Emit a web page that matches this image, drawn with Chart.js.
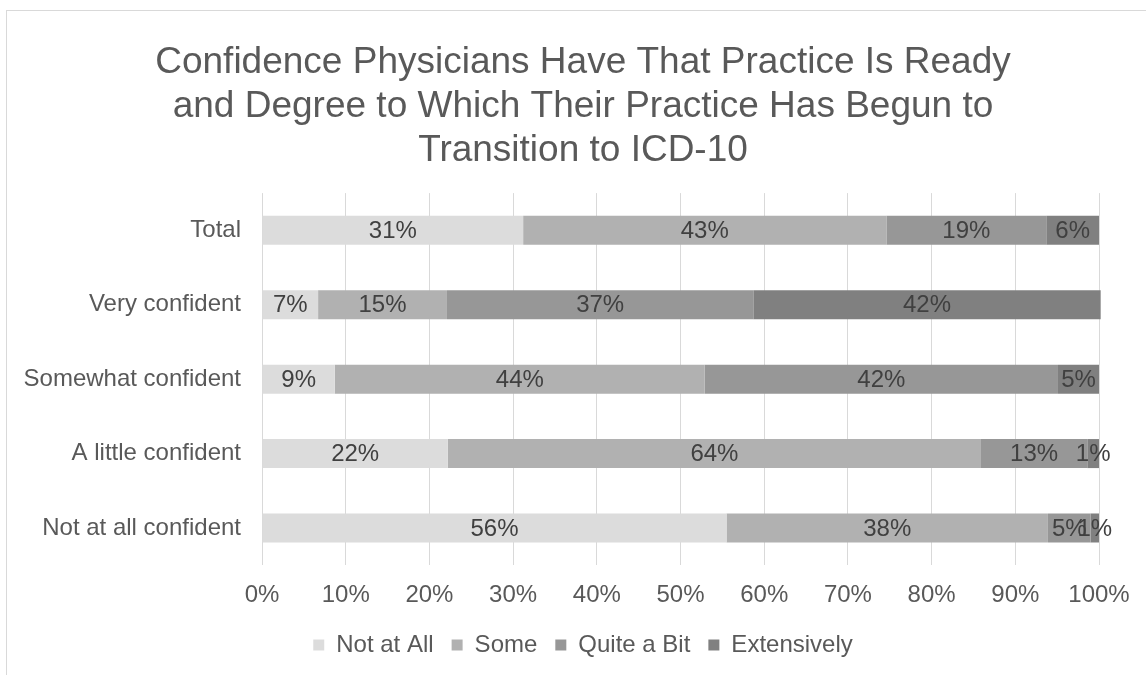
<!DOCTYPE html>
<html>
<head>
<meta charset="utf-8">
<script src="https://cdn.jsdelivr.net/npm/chart.js@4"></script>
<style>
    body {
        margin: 0;
        background: #ffffff;
        overflow: hidden;
        width: 1146px;
        height: 675px;
        position: relative;
    }
    .frame {
        position: absolute;
        left: 6px;
        top: 10px;
        width: 1160px;
        height: 700px;
        border: 1px solid #d9d9d9;
    }
    .chart-box {
        position: absolute;
        left: 7px;
        top: 11px;
        width: 1152px;
        height: 664px;
    }
</style>
</head>
<body>
<div class="frame"></div>
<div class="chart-box">
    <canvas id="confidenceChart" width="1152" height="664"></canvas>
</div>
<script>
const categories = ["Total", "Very confident", "Somewhat confident", "A little confident", "Not at all confident"];
const seriesNames = ["Not at All", "Some", "Quite a Bit", "Extensively"];
const notAtAll = [31.2, 6.7, 8.7, 22.2, 55.5];
const some = [43.4, 15.4, 44.2, 63.7, 38.4];
const quiteABit = [19.1, 36.6, 42.2, 12.7, 5.1];
const extensively = [6.3, 41.5, 4.9, 1.4, 1.0];
const xTicks = [0, 10, 20, 30, 40, 50, 60, 70, 80, 90, 100];

const colors = ["#dcdcdc", "#b1b1b1", "#979797", "#808080"];
const seriesValues = [notAtAll, some, quiteABit, extensively];
const fontFamily = "'Liberation Sans', Arial, sans-serif";

// value labels centred in each bar segment
const barLabels = {
    id: "barLabels",
    afterDatasetsDraw(chart) {
        const ctx = chart.ctx;
        ctx.save();
        ctx.font = "24px " + fontFamily;
        ctx.fillStyle = "#404040";
        ctx.textAlign = "center";
        ctx.textBaseline = "middle";
        chart.data.datasets.forEach((ds, i) => {
            chart.getDatasetMeta(i).data.forEach((bar, j) => {
                const p = bar.getCenterPoint();
                ctx.fillText(Math.round(ds.data[j]) + "%", p.x, p.y + 1);
            });
        });
        ctx.restore();
    }
};

new Chart(document.getElementById("confidenceChart"), {
    type: "bar",
    data: {
        labels: categories,
        datasets: seriesNames.map((name, i) => ({
            label: name,
            data: seriesValues[i],
            backgroundColor: colors[i],
            borderWidth: 0,
            barPercentage: 0.39,
            categoryPercentage: 1,
            clip: false
        }))
    },
    options: {
        indexAxis: "y",
        responsive: false,
        animation: false,
        layout: {
            padding: { left: 0, right: 0, top: 0, bottom: 8 }
        },
        plugins: {
            title: {
                display: true,
                text: ["Confidence Physicians Have That Practice Is Ready", "and Degree to Which Their Practice Has Begun to", "Transition to ICD-10"],
                color: "#595959",
                font: { family: fontFamily, size: 37, weight: "normal", lineHeight: 1.19 },
                padding: { top: 30, bottom: 20 }
            },
            legend: {
                position: "bottom",
                labels: {
                    color: "#595959",
                    font: { family: fontFamily, size: 24 },
                    boxWidth: 11,
                    boxHeight: 11,
                    padding: 18
                }
            },
            tooltip: { enabled: false }
        },
        scales: {
            x: {
                stacked: true,
                min: 0,
                max: 100,
                afterBuildTicks(axis) {
                    axis.ticks = xTicks.map(v => ({ value: v }));
                },
                afterFit(axis) {
                    axis.height -= 11;
                },
                grid: { color: "#d9d9d9", drawTicks: false },
                border: { display: false },
                ticks: {
                    color: "#595959",
                    font: { family: fontFamily, size: 24 },
                    padding: 16,
                    callback: v => v + "%"
                }
            },
            y: {
                stacked: true,
                grid: { display: false, drawTicks: false },
                border: { display: false },
                afterFit(axis) {
                    axis.width = 255;
                },
                ticks: {
                    color: "#595959",
                    font: { family: fontFamily, size: 24 },
                    padding: 21
                }
            },
            // empty right-hand axis: leaves room on the right while the title stays centred
            yRight: {
                position: "right",
                grid: { display: false, drawTicks: false },
                border: { display: false },
                ticks: { display: false },
                afterFit(axis) {
                    axis.width = 60;
                }
            }
        }
    },
    plugins: [barLabels]
});
</script>
</body>
</html>
